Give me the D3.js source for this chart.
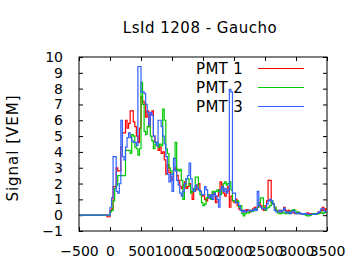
<!DOCTYPE html>
<html>
<head>
<meta charset="utf-8">
<script src="https://cdn.jsdelivr.net/npm/d3@7"></script>
<style>
  body { margin: 0; background: #fff; }
  text { font-family: "DejaVu Sans", sans-serif; fill: #000; }
</style>
</head>
<body>
<div id="chart"></div>
<script>
// Trace binning (ns)
const binStart = -500;
const binWidth = 25;

// Signal per 25 ns bin, starting at -500 ns
const pmt1 = [
  0,0,0,0,0,0,0,0,0,0,
  0,0,0,0,0,0,0,0,-0.1,-0.1,
  0.3,0.4,1.8,1.8,3.0,2.8,2.8,4.3,5.2,5.2,
  6.0,5.5,5.8,6.6,6.6,5.9,5.6,5.0,4.6,5.5,
  7.5,7.2,7.0,6.2,6.6,5.6,6.4,6.6,5.0,4.6,
  4.4,4.1,4.3,3.9,4.0,3.5,2.6,3.2,2.7,2.4,
  2.2,2.9,3.0,2.5,2.2,1.8,1.7,1.9,2.1,1.7,
  1.8,2.0,1.5,1.0,1.5,1.6,1.9,2.0,1.5,1.2,
  1.3,1.0,0.9,1.1,1.2,1.0,1.4,1.3,0.8,1.2,
  1.6,2.1,1.9,1.4,1.2,1.5,1.8,0.5,1.2,0.9,
  0.8,1.0,0.6,0.4,0.3,0.3,0.2,0.3,0.35,0.3,
  0.2,0.3,0.4,0.5,0.3,0.5,0.8,0.6,0.4,0.3,
  0.6,0.9,2.2,2.2,0.8,0.7,0.5,0.3,0.2,0.3,
  0.2,0.3,0.5,0.3,0.2,0.3,0.2,0.15,0.2,0.1,
  0.1,0.2,0.1,0.1,0.05,0.1,0.05,0.15,0.1,0.05,
  0.1,0.05,0.05,0.1,0.2,0.15,0.3,0.5,0.3,0.4
];
const pmt2 = [
  0,0,0,0,0,0,0,0,0,0,
  0,0,0,0,0,0,0,0,0,0,
  0.2,0.3,0.9,1.7,1.9,2.5,2.5,2.5,2.5,2.5,
  4.1,4.1,4.1,3.9,5.1,5.0,4.3,4.2,3.8,4.2,
  8.4,7.0,5.3,5.1,5.6,5.7,5.0,4.7,4.2,4.5,
  4.6,4.3,4.5,4.4,6.7,6.0,4.2,3.9,3.0,2.8,
  2.6,3.6,4.6,2.9,2.8,2.9,2.2,1.0,1.8,2.3,
  2.3,1.9,1.4,1.5,1.7,2.4,2.4,1.6,1.3,0.8,
  0.6,0.7,1.1,1.3,1.1,1.0,1.5,1.4,1.5,1.6,
  1.5,1.3,1.7,2.0,2.1,1.9,2.0,2.1,1.6,0.9,
  0.9,0.8,0.9,0.5,0.6,0.1,-0.05,0.1,0.2,0.15,
  0.2,0.3,0.25,0.4,0.35,0.5,0.8,1.1,1.1,0.5,
  0.3,0.45,0.5,0.6,0.9,0.7,0.5,0.3,0.15,0.1,
  0.1,0.2,0.15,0.1,0.2,0.1,0.2,0.3,0.35,0.3,
  0.15,0.2,0.1,0.1,0.05,0.1,0.0,-0.05,-0.05,0.0,
  0.05,0.1,0.1,0.05,0.1,0.15,0.2,0.1,0.15,0.2
];
const pmt3 = [
  0,0,0,0,0,0,0,0,0,0,
  0,0,0,0,0,0,0,0,0,0,
  0.5,1.1,3.7,3.7,1.5,1.4,2.0,6.0,3.7,3.5,
  4.3,4.9,5.2,4.9,4.7,4.6,4.6,4.4,9.4,9.4,
  7.8,7.8,7.7,7.0,6.5,5.7,6.5,6.3,5.0,4.6,
  4.4,6.0,6.0,5.6,5.0,4.5,3.7,2.6,2.1,2.6,
  1.5,3.6,2.8,2.2,1.9,1.4,1.2,1.5,2.0,2.3,
  2.5,3.3,2.3,1.6,1.5,1.9,1.7,1.6,1.5,1.3,
  1.3,1.8,1.6,1.2,1.1,1.3,1.0,1.4,1.2,1.0,
  0.5,1.6,1.8,1.5,1.7,1.4,1.6,7.95,7.8,1.4,
  1.4,0.8,0.8,0.6,0.3,0.2,0.3,0.2,0.25,0.3,
  0.3,0.25,0.3,0.4,0.3,1.5,0.6,0.5,0.4,0.4,
  0.4,0.7,0.9,1.0,0.9,0.7,0.3,0.2,0.2,0.3,
  0.2,0.3,0.45,0.2,0.15,0.2,0.1,0.2,0.3,0.15,
  0.1,0.1,0.15,0.1,0.05,0.1,0.1,0.05,0.05,0.05,
  0.05,0.05,0.05,0.1,0.15,0.25,0.4,0.4,0.25,0.2
];

const seriesNames = ["PMT 1", "PMT 2", "PMT 3"];
const seriesColors = ["#ff0000", "#00c800", "#3060ff"];
const xTicks = [-500, 0, 500, 1000, 1500, 2000, 2500, 3000, 3500];
const yTicks = [-1, 0, 1, 2, 3, 4, 5, 6, 7, 8, 9, 10];

const W = 360, H = 270;
const margin = { top: 57, right: 33, bottom: 39, left: 79 };
const width = W - margin.left - margin.right;
const height = H - margin.top - margin.bottom;

const svg = d3.select("#chart").append("svg")
  .attr("width", W)
  .attr("height", H);

const g = svg.append("g")
  .attr("transform", `translate(${margin.left},${margin.top})`);

const x = d3.scaleLinear().domain([-500, 3500]).range([0, width]);
const y = d3.scaleLinear().domain([-1, 10]).range([height, 0]);

svg.append("defs").append("clipPath").attr("id", "plot")
  .append("rect").attr("width", width).attr("height", height);

// Title and axis label
svg.append("text")
  .attr("x", 200).attr("y", 33)
  .attr("text-anchor", "middle")
  .attr("font-size", 15)
  .attr("letter-spacing", 0.5)
  .text("LsId 1208 - Gaucho");

svg.append("text")
  .attr("transform", "translate(18,148) rotate(-90)")
  .attr("text-anchor", "middle")
  .attr("font-size", 15)
  .attr("letter-spacing", 1)
  .text("Signal [VEM]");

// Axes: ticks point inward, mirrored on top and right
const axisStyle = sel => {
  sel.select(".domain").remove();
  sel.selectAll("line").attr("stroke", "#000");
  sel.selectAll("text").attr("font-size", 14).attr("fill", "#000");
};

g.append("g")
  .attr("transform", `translate(0,${height})`)
  .call(d3.axisBottom(x).tickValues(xTicks).tickFormat(d3.format("d"))
    .tickSizeInner(-4).tickSizeOuter(0).tickPadding(15))
  .call(axisStyle);

g.append("g")
  .call(d3.axisTop(x).tickValues(xTicks).tickSizeInner(-4).tickSizeOuter(0).tickFormat(""))
  .call(axisStyle);

g.append("g")
  .call(d3.axisLeft(y).tickValues(yTicks).tickFormat(d3.format("d"))
    .tickSizeInner(-4).tickSizeOuter(0).tickPadding(16))
  .call(axisStyle);

g.append("g")
  .attr("transform", `translate(${width},0)`)
  .call(d3.axisRight(y).tickValues(yTicks).tickSizeInner(-4).tickSizeOuter(0).tickFormat(""))
  .call(axisStyle);

// Step traces
const line = d3.line()
  .x(d => x(d.t))
  .y(d => y(d.v))
  .curve(d3.curveStepAfter);

[pmt1, pmt2, pmt3].forEach((vals, k) => {
  const pts = vals.map((v, i) => ({ t: binStart + i * binWidth, v }));
  pts.push({ t: binStart + vals.length * binWidth, v: vals[vals.length - 1] });
  g.append("path")
    .datum(pts)
    .attr("clip-path", "url(#plot)")
    .attr("fill", "none")
    .attr("stroke", seriesColors[k])
    .attr("stroke-width", 1.2)
    .attr("d", line);
});

// Legend
const legend = svg.append("g");
seriesNames.forEach((name, k) => {
  const ly = 68.5 + k * 19;
  legend.append("text")
    .attr("x", 243).attr("y", ly + 5)
    .attr("text-anchor", "end")
    .attr("font-size", 15)
    .attr("letter-spacing", 0.3)
    .text(name);
  legend.append("line")
    .attr("x1", 258).attr("x2", 304)
    .attr("y1", ly).attr("y2", ly)
    .attr("stroke", seriesColors[k])
    .attr("stroke-width", 1);
});

// Frame
g.append("rect")
  .attr("width", width).attr("height", height)
  .attr("fill", "none")
  .attr("stroke", "#000")
  .attr("stroke-width", 1);
</script>
</body>
</html>
